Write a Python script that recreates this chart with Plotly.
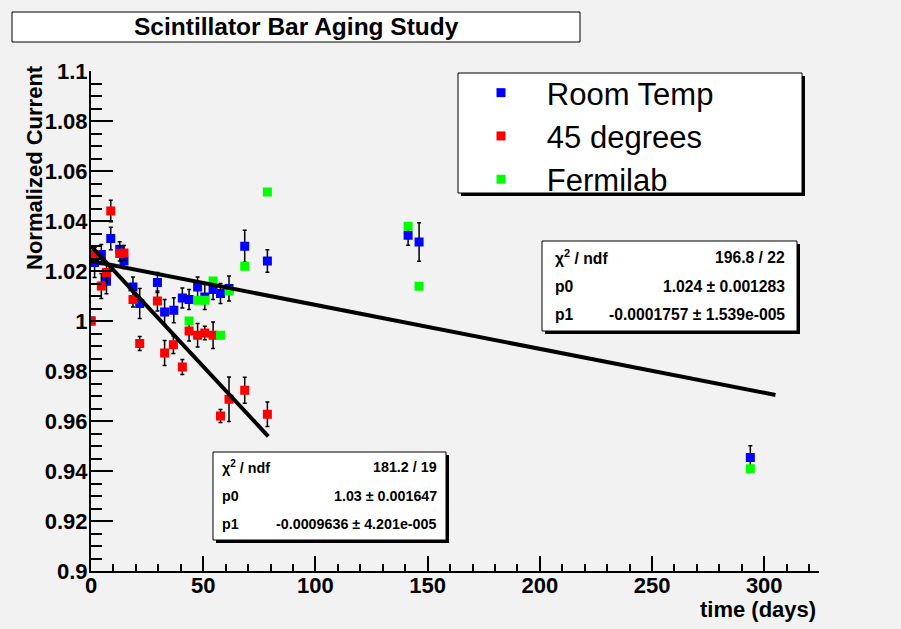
import numpy as np
import plotly.graph_objects as go

# ---------------- data ----------------
days_room = [0, 1.6, 4.6, 6.9, 8.8, 12.8, 14.7, 18.7, 21.7, 29.6, 32.8, 36.9, 40.7, 43.7,
             47.5, 50.7, 54.4, 57.7, 61.5, 68.5, 78.6, 141.3, 146.2, 293.8]
room_vals = [1.000, 1.0234, 1.0266, 1.0159, 1.033, 1.0287, 1.024, 1.0136, 1.007, 1.0154,
             1.0036, 1.0043, 1.0092, 1.0086, 1.0136, 1.0096, 1.0126, 1.011, 1.013, 1.0299,
             1.024, 1.0343, 1.0316, 0.9454]
room_err = [0, 0.006, 0.004, 0.005, 0.0045, 0.003, 0.003, 0.004, 0.006, 0.004, 0.005, 0.005,
            0.004, 0.004, 0.004, 0.005, 0.004, 0.004, 0.005, 0.0064, 0.0045, 0.004, 0.0077, 0.0047]

days_45 = [0, 1.6, 4.6, 6.9, 8.8, 12.8, 14.7, 18.7, 21.7, 29.6, 32.8, 36.7, 40.7, 43.7,
           47.5, 50.7, 54.4, 57.7, 61.5, 68.5, 78.6]
deg45_vals = [1.000, 1.0266, 1.014, 1.0194, 1.044, 1.027, 1.0272, 1.0086, 0.991, 1.008,
              0.9872, 0.9905, 0.9816, 0.996, 0.9943, 0.9952, 0.9943, 0.962, 0.9687, 0.9723, 0.9627]
deg45_err = [0, 0.003, 0.005, 0.004, 0.0043, 0.003, 0.003, 0.003, 0.0028, 0.004, 0.005,
             0.0035, 0.003, 0.004, 0.0047, 0.0027, 0.0053, 0.0026, 0.0089, 0.0052, 0.0049]

days_fnal = [43.7, 47.5, 50.7, 54.4, 57.7, 61.5, 68.5, 78.6, 141.3, 146.2, 293.8]
fnal_vals = [1.000, 1.0083, 1.0083, 1.016, 0.9943, 1.012, 1.0219, 1.0516, 1.0379, 1.0139, 0.9409]

series_names = ["Room Temp", "45 degrees", "Fermilab"]

# fit results (pol1)
fit_room = {"p0": 1.024, "p1": -0.0001757, "range": [0, 305]}
fit_45 = {"p0": 1.03, "p1": -0.0009636, "range": [0, 79]}
stats_room = [("χ<sup>2</sup> / ndf", "196.8 / 22"),
              ("p0", "1.024 ± 0.001283"),
              ("p1", "-0.0001757 ± 1.539e-005")]
stats_45 = [("χ<sup>2</sup> / ndf", "181.2 / 19"),
            ("p0", "1.03 ± 0.001647"),
            ("p1", "-0.0009636 ± 4.201e-005")]

y_tickvals = [0.9, 0.92, 0.94, 0.96, 0.98, 1.0, 1.02, 1.04, 1.06, 1.08, 1.1]
y_ticktext = ["0.9", "0.92", "0.94", "0.96", "0.98", "1", "1.02", "1.04", "1.06", "1.08", "1.1"]
x_tickvals = [0, 50, 100, 150, 200, 250, 300]
x_ticktext = ["0", "50", "100", "150", "200", "250", "300"]

# ---------------- layout helpers ----------------
W, H = 901, 629
ML, MR, MT, MB = 91, 82, 71, 58
PW, PH = W - ML - MR, H - MT - MB
BG = "#f2f2f2"
FONT = "Arial, Liberation Sans, sans-serif"


def xp(px):
    return (px - ML) / PW


def yp(py):
    return (H - MB - py) / PH


fig = go.Figure()

common_err = dict(type="data", color="black", thickness=1.5, width=2)
fig.add_trace(go.Scatter(x=days_room, y=room_vals, mode="markers", name="   " + series_names[0],
                         marker=dict(symbol="square", size=9, color="#0000ff", line=dict(width=0)),
                         error_y=dict(array=room_err, **common_err)))
fig.add_trace(go.Scatter(x=days_45, y=deg45_vals, mode="markers", name="   " + series_names[1],
                         marker=dict(symbol="square", size=9, color="#ff0000", line=dict(width=0)),
                         error_y=dict(array=deg45_err, **common_err)))
fig.add_trace(go.Scatter(x=days_fnal, y=fnal_vals, mode="markers", name="   " + series_names[2],
                         marker=dict(symbol="square", size=9, color="#00ff00", line=dict(width=0))))

for f in (fit_room, fit_45):
    xs = np.linspace(f["range"][0], f["range"][1], 2)
    fig.add_trace(go.Scatter(x=xs, y=f["p0"] + f["p1"] * xs, mode="lines",
                             line=dict(color="black", width=4), showlegend=False,
                             hoverinfo="skip"))

shapes = []
annotations = []


def box(x0, y0, x1, y1, shadow=3):
    if shadow:
        shapes.append(dict(type="rect", xref="paper", yref="paper",
                           x0=xp(x0 + shadow), x1=xp(x1 + shadow), y0=yp(y0 + shadow), y1=yp(y1 + shadow),
                           fillcolor="black", line=dict(width=0), layer="above"))
    shapes.append(dict(type="rect", xref="paper", yref="paper",
                       x0=xp(x0), x1=xp(x1), y0=yp(y0), y1=yp(y1),
                       fillcolor="white", line=dict(color="black", width=1), layer="above"))


# title box
box(12, 12, 580, 42, shadow=0)
annotations.append(dict(text="<b>Scintillator Bar Aging Study</b>", xref="paper", yref="paper",
                        x=xp(296), y=yp(27), xanchor="center", yanchor="middle", showarrow=False,
                        font=dict(family=FONT, size=24.5, color="black")))

# legend box
box(458, 73, 802, 193)


def stats(rows, x0, y0, x1, y1, lx, rx, ys, size):
    box(x0, y0, x1, y1)
    for (lab, val), yy in zip(rows, ys):
        annotations.append(dict(text="<b>%s</b>" % lab, xref="paper", yref="paper", x=xp(lx), y=yp(yy),
                                xanchor="left", yanchor="middle", showarrow=False,
                                font=dict(family=FONT, size=size, color="black")))
        annotations.append(dict(text="<b>%s</b>" % val, xref="paper", yref="paper", x=xp(rx), y=yp(yy),
                                xanchor="right", yanchor="middle", showarrow=False,
                                font=dict(family=FONT, size=size, color="black")))


stats(stats_room, 542, 241, 797, 331, 553, 787, [257, 286, 314], 15.7)
stats(stats_45, 213, 452, 446, 540, 220, 439, [467, 496, 524], 14.3)

annotations.append(dict(text="<b>Normalized Current</b>", xref="paper", yref="paper",
                        x=xp(35), y=yp(168), textangle=-90, xanchor="center", yanchor="middle",
                        showarrow=False, font=dict(family=FONT, size=22, color="black")))
annotations.append(dict(text="<b>time (days)</b>", xref="paper", yref="paper",
                        x=xp(818), y=yp(609), xanchor="right", yanchor="middle",
                        showarrow=False, font=dict(family=FONT, size=22, color="black")))

fig.update_layout(
    width=W, height=H,
    margin=dict(l=ML, r=MR, t=MT, b=MB, pad=0),
    paper_bgcolor=BG, plot_bgcolor=BG,
    font=dict(family=FONT, color="black"),
    showlegend=True,
    legend=dict(x=xp(481), y=yp(66), xanchor="left", yanchor="top",
                bgcolor="rgba(0,0,0,0)", borderwidth=0,
                font=dict(family=FONT, size=31, color="black"),
                itemclick=False, itemdoubleclick=False, tracegroupgap=0),
    shapes=shapes, annotations=annotations,
    xaxis=dict(range=[0, 324.4], showgrid=False, zeroline=False,
               showline=True, linecolor="black", linewidth=2, mirror=False,
               ticks="inside", ticklen=15, tickwidth=1.5, tickcolor="black",
               tickvals=x_tickvals, ticktext=x_ticktext, ticklabelstandoff=-6,
               tickfont=dict(family=FONT, size=22, color="black", weight="bold"),
               minor=dict(ticks="inside", ticklen=7, tickwidth=1.5, tickcolor="black", dtick=10)),
    yaxis=dict(range=[0.9, 1.1], showgrid=False, zeroline=False,
               showline=True, linecolor="black", linewidth=2, mirror=False,
               ticks="inside", ticklen=22, tickwidth=1.5, tickcolor="black",
               tickvals=y_tickvals, ticktext=y_ticktext, ticklabelstandoff=-3,
               tickfont=dict(family=FONT, size=22, color="black", weight="bold"),
               minor=dict(ticks="inside", ticklen=11, tickwidth=1.5, tickcolor="black", dtick=0.005)),
)

fig.write_html("out.html")
